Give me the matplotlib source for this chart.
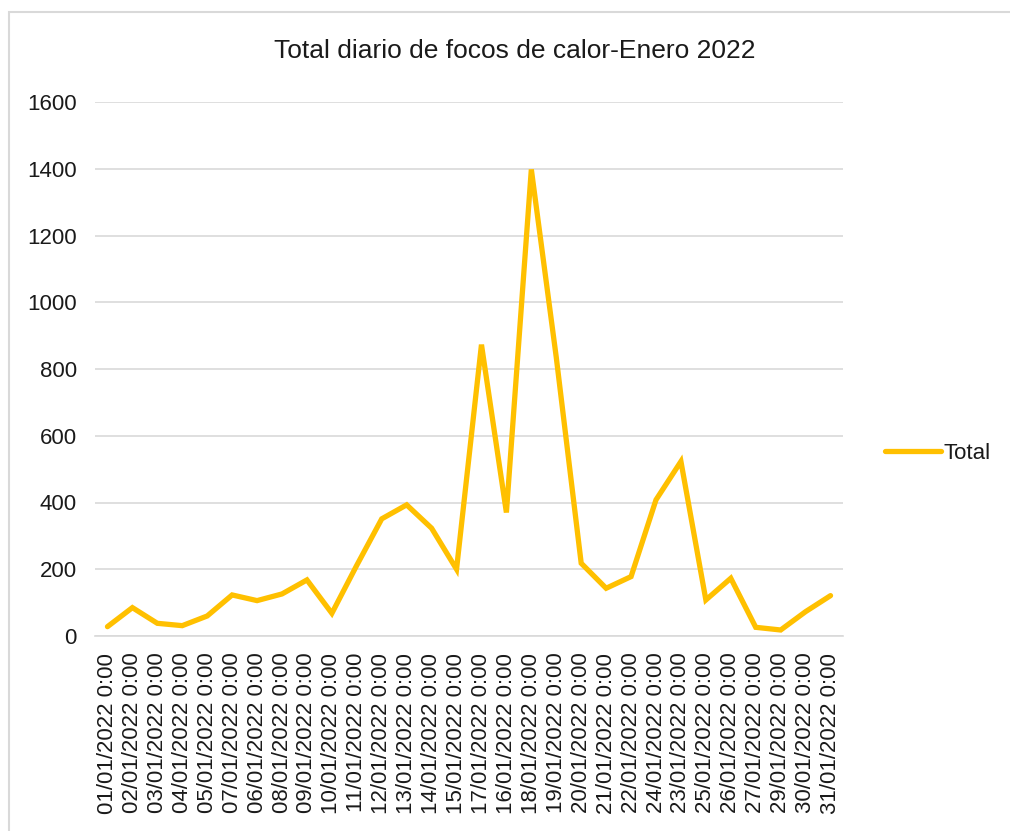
import matplotlib
matplotlib.use("Agg")
import matplotlib.pyplot as plt
from matplotlib.patches import Rectangle

plt.rcParams['font.family'] = ['Liberation Sans', 'DejaVu Sans']

# fechas en el orden en que aparecen en el eje
dias = ["01", "02", "03", "04", "05", "07", "06", "08", "09", "10",
        "11", "12", "13", "14", "15", "17", "16", "18", "19", "20",
        "21", "22", "24", "23", "25", "26", "27", "29", "30", "31"]
etiquetas = ["{}/01/2022 0:00".format(d) for d in dias]

total = [28, 85, 38, 31, 60, 123, 106, 126, 168, 68,
         212, 351, 393, 323, 200, 873, 370, 1398, 835, 218,
         143, 178, 408, 523, 108, 173, 26, 18, 73, 121]

titulo = "Total diario de focos de calor-Enero 2022"
yticks = [0, 200, 400, 600, 800, 1000, 1200, 1400, 1600]

W, H = 1010, 831
fig = plt.figure(figsize=(W / 100, H / 100), dpi=100)

# marco del grafico (captura de Excel)
fig.patches.append(Rectangle((9 / W, -0.1), 1.2, 1.1 - 12 / H,
                             transform=fig.transFigure, fill=False,
                             edgecolor="#d9d9d9", linewidth=1.5))

ax = fig.add_axes([95 / W, (H - 636) / H, (843 - 95) / W, (636 - 102) / H])

x = list(range(len(total)))
ax.plot(x, total, color="#FFC000", linewidth=3.8, solid_joinstyle="miter",
        solid_capstyle="round", label="Total")

ax.set_xlim(-0.5, len(total) - 0.5)
ax.set_ylim(0, 1600)
ax.set_yticks(yticks)
ax.set_yticklabels([str(v) for v in yticks])
ax.set_xticks(x)
ax.set_xticklabels(etiquetas, rotation=90)

ax.grid(axis="y", color="#d9d9d9", linewidth=1.2)
ax.set_axisbelow(True)
for s in ["top", "right", "left"]:
    ax.spines[s].set_visible(False)
ax.spines["bottom"].set_color("#d9d9d9")
ax.spines["bottom"].set_linewidth(1.2)
ax.tick_params(axis="both", length=0, labelsize=16, colors="#1a1a1a")
ax.tick_params(axis="y", pad=13)
ax.tick_params(axis="x", pad=12)

fig.text(515 / W, 1 - 51 / H, titulo, ha="center", va="center",
         fontsize=19, color="#1a1a1a")

leg = ax.legend(loc="center left", bbox_to_anchor=(1.03, 0.342),
                frameon=False, fontsize=16, handlelength=2.5,
                handletextpad=0.1)
for t in leg.get_texts():
    t.set_color("#1a1a1a")

fig.savefig("out.png", dpi=100)
